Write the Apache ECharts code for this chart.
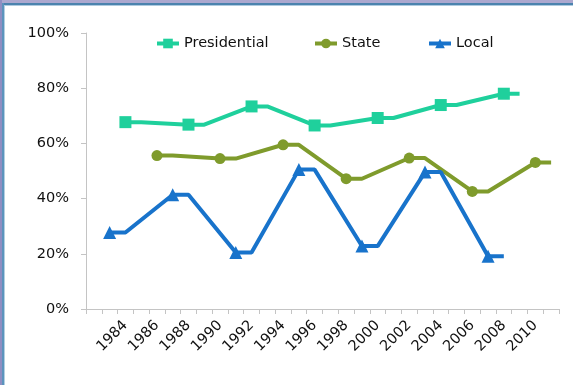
<!DOCTYPE html>
<html>
<head>
<meta charset="utf-8">
<script src="https://cdn.jsdelivr.net/npm/echarts@6/dist/echarts.min.js"></script>
<style>
html,body{margin:0;padding:0;background:#fff;}
#chart{width:573px;height:385px;}
</style>
</head>
<body>
<div id="chart"></div>
<script>
// Category axis years (one category per year)
const years = [1982,1983,1984,1985,1986,1987,1988,1989,1990,1991,1992,1993,1994,1995,1996,1997,1998,1999,2000,2001,2002,2003,2004,2005,2006,2007,2008,2009,2010,2011];
const tickLabelYears = [1984,1986,1988,1990,1992,1994,1996,1998,2000,2002,2004,2006,2008,2010];

const presYears  = [1984,1988,1992,1996,2000,2004,2008];
const presValues = [67.7,66.8,73.4,66.5,69.2,73.9,78.0];

const stateYears  = [1986,1990,1994,1998,2002,2006,2010];
const stateValues = [55.6,54.5,59.5,47.2,54.7,42.6,53.1];

const localYears  = [1983,1987,1991,1995,1999,2003,2007];
const localValues = [27.7,41.4,20.5,50.5,22.8,49.6,19.1];

const yTicks = [0,20,40,60,80,100];

// Each value has a marker in its year and the line continues flat into the next year
function build(ys, vs) {
  return years.map(y => {
    const i = ys.indexOf(y);
    if (i >= 0) return { value: vs[i] };
    const j = ys.indexOf(y - 1);
    if (j >= 0) return { value: vs[j], symbol: 'none' };
    return { value: null };
  });
}

const FONT = 'DejaVu Sans';
const chart = echarts.init(document.getElementById('chart'), null, {renderer: 'canvas'});

function legendAt(name, left) {
  return {
    data: [name], left: left, top: 36, padding: 0, itemWidth: 22, itemHeight: 12, itemGap: 5,
    lineStyle: { width: 4 },
    textStyle: { fontFamily: FONT, fontSize: 14.5, color: '#111' }
  };
}

chart.setOption({
  animation: false,
  backgroundColor: '#fff',
  graphic: [
    { type: 'rect', shape: {x:0, y:0, width:573, height:3}, style: {fill:'#aca8cf'}, silent:true },
    { type: 'rect', shape: {x:0, y:3, width:573, height:2}, style: {fill:'#4b83ae'}, silent:true },
    { type: 'rect', shape: {x:0, y:5, width:573, height:1}, style: {fill:'#aecadf'}, silent:true },
    { type: 'rect', shape: {x:0, y:0, width:2, height:385}, style: {fill:'#8f8ec2'}, silent:true },
    { type: 'rect', shape: {x:2, y:3, width:2, height:382}, style: {fill:'#5c94bd'}, silent:true },
    { type: 'rect', shape: {x:4, y:5, width:1, height:380}, style: {fill:'#b3cfe2'}, silent:true }
  ],
  legend: [ legendAt('Presidential', 155), legendAt('State', 313), legendAt('Local', 427) ],
  grid: { left: 86, right: 14, top: 33, bottom: 76, containLabel: false },
  xAxis: {
    type: 'category',
    data: years,
    boundaryGap: true,
    axisLine: { lineStyle: { color: '#c4c4c4', width: 1 } },
    axisTick: { show: true, interval: 0, length: 5, lineStyle: { color: '#c4c4c4' } },
    axisLabel: {
      interval: (idx, val) => tickLabelYears.indexOf(Number(val)) >= 0,
      rotate: 45,
      margin: 14,
      align: 'right',
      verticalAlign: 'middle',
      lineHeight: 12,
      fontFamily: FONT, fontSize: 14.5, color: '#111'
    },
    splitLine: { show: false }
  },
  yAxis: {
    type: 'value',
    min: yTicks[0], max: yTicks[yTicks.length - 1], interval: 20,
    axisLine: { show: true, lineStyle: { color: '#c4c4c4', width: 1 } },
    axisTick: { show: true, length: 5, lineStyle: { color: '#c4c4c4' } },
    axisLabel: { formatter: '{value}%', margin: 17, fontFamily: FONT, fontSize: 14.5, color: '#111' },
    splitLine: { show: false }
  },
  series: [
    {
      name: 'Presidential', type: 'line', data: build(presYears, presValues),
      connectNulls: true, symbol: 'rect', symbolSize: 12, showSymbol: true, showAllSymbol: true,
      lineStyle: { width: 4, color: '#1fd09c' }, itemStyle: { color: '#1fd09c' }
    },
    {
      name: 'State', type: 'line', data: build(stateYears, stateValues),
      connectNulls: true, symbol: 'circle', symbolSize: 11, showSymbol: true, showAllSymbol: true,
      lineStyle: { width: 4, color: '#7f9b2c' }, itemStyle: { color: '#7f9b2c' }
    },
    {
      name: 'Local', type: 'line', data: build(localYears, localValues),
      connectNulls: true, symbol: 'triangle', symbolSize: 13, showSymbol: true, showAllSymbol: true,
      lineStyle: { width: 4, color: '#1873cb' }, itemStyle: { color: '#1873cb' }
    }
  ]
});
</script>
</body>
</html>
